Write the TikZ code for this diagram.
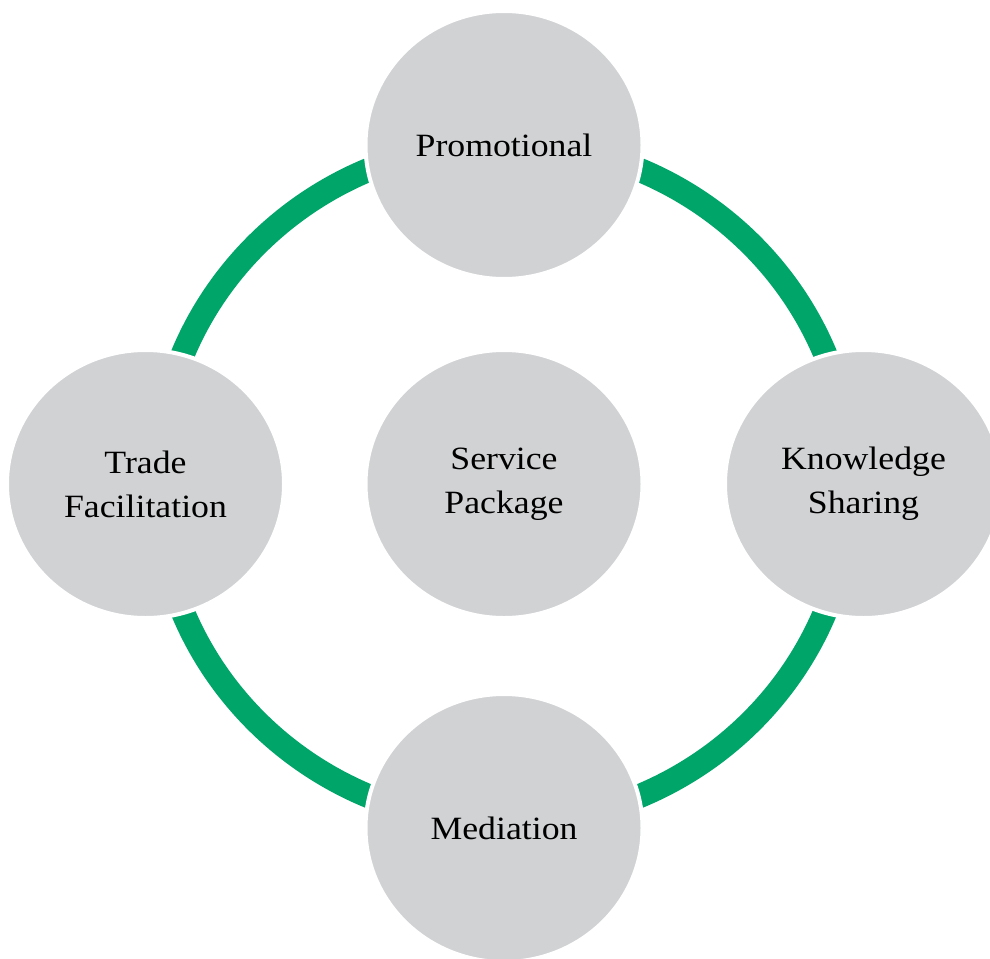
\documentclass[tikz,border=0pt]{standalone}
\usepackage{fontspec}
\setmainfont[FakeStretch=1.1]{Liberation Serif}
\usetikzlibrary{shapes.geometric}
\definecolor{ringgreen}{RGB}{0,165,106}
\definecolor{bubblegray}{RGB}{209,210,212}
\tikzset{
  bubble/.style={ellipse, fill=bubblegray, draw=white, line width=4pt,
    minimum width=277pt, minimum height=268pt, inner sep=0pt,
    align=center, text=black, font=\fontsize{32.5}{44}\selectfont},
  ring/.style={draw=ringgreen, line width=24pt}
}
\begin{document}
\begin{tikzpicture}[x=1pt,y=-1pt]
\useasboundingbox (0,0) rectangle (990,958);
\clip (0,0) rectangle (990,958);
\coordinate (ringc) at (504,483);
\draw[ring] (ringc) ellipse [x radius=347, y radius=340];
\node[bubble] (center) at (504,484) {Service\\Package};
\node[bubble] (top) at (504,145) {Promotional};
\node[bubble] (left) at (145.5,484) {Trade\\Facilitation};
\node[bubble] (right) at (863.5,484) {Knowledge\\Sharing};
\node[bubble] (bottom) at (504,828) {Mediation};
\end{tikzpicture}
\end{document}
